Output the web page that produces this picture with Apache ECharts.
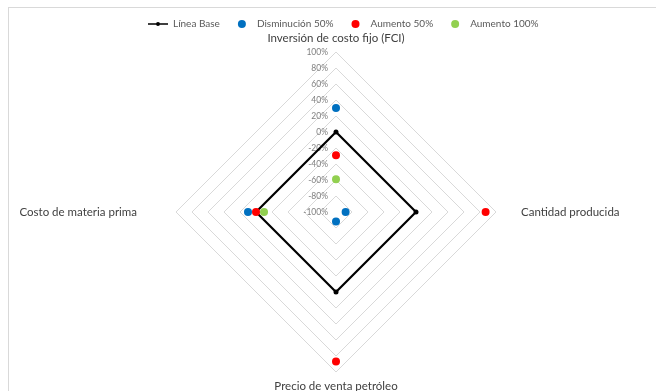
<!DOCTYPE html>
<html>
<head>
<meta charset="utf-8">
<script src="https://cdn.jsdelivr.net/npm/echarts@6/dist/echarts.min.js"></script>
<style>
  html, body { margin: 0; padding: 0; background: #fff; }
  #main { width: 656px; height: 391px; }
  .frame { position: absolute; left: 8px; top: 7px; right: 0; bottom: 0; border-left: 1px solid #d9d9d9; border-top: 1px solid #d9d9d9; pointer-events: none; }
</style>
</head>
<body>
<div id="main"></div>
<div class="frame"></div>
<script>
  // ejes del radar (orden: arriba, izquierda, abajo, derecha)
  var indicators = ['Inversión de costo fijo (FCI)', 'Costo de materia prima', 'Precio de venta petróleo', 'Cantidad producida'];
  var ticks = [-100, -80, -60, -40, -20, 0, 20, 40, 60, 80, 100];

  var lineaBase = [0, 0, 0, 0];
  var disminucion50 = [30, 10, -88, -88];
  var aumento50 = [-29, 0, 87, 87];
  var aumento100 = [-59, -10, null, null]; // fuera del gráfico

  var namePad = {
    'Inversión de costo fijo (FCI)': 'n',
    'Costo de materia prima': 'l',
    'Precio de venta petróleo': 'n',
    'Cantidad producida': 'r'
  };

  var font = 'Lato, "Liberation Sans", sans-serif';

  // puntos [radio, ángulo] para el sistema polar
  function toPolar(vals) {
    var out = [];
    vals.forEach(function (v, i) {
      if (v != null) out.push([v, indicators[i]]);
    });
    return out;
  }

  function dots(name, color, vals) {
    return {
      name: name,
      type: 'scatter',
      coordinateSystem: 'polar',
      symbol: 'circle',
      symbolSize: 8,
      itemStyle: { color: color, opacity: 1 },
      data: toPolar(vals)
    };
  }

  var myChart = echarts.init(document.getElementById('main'));

  var option = {
    animation: false,
    legend: {
      top: 14,
      left: 143,
      itemWidth: 20,
      itemHeight: 8,
      itemGap: 18,
      textStyle: { fontFamily: font, fontSize: 10, color: '#595959' },
      data: [
        { name: 'Línea Base', icon: 'path://M0,3.2 L20,3.2 L20,4.8 L0,4.8 Z M10,2 A2,2 0 1 1 10,6 A2,2 0 1 1 10,2 Z' },
        { name: 'Disminución 50%', icon: 'circle', itemStyle: { opacity: 1 } },
        { name: 'Aumento 50%', icon: 'circle', itemStyle: { opacity: 1 } },
        { name: 'Aumento 100%', icon: 'circle', itemStyle: { opacity: 1 } }
      ]
    },
    grid: { left: 334, top: 52, width: 1, height: 160 },
    xAxis: { show: false, type: 'value' },
    yAxis: {
      type: 'value',
      min: ticks[0],
      max: ticks[ticks.length - 1],
      interval: 20,
      axisLine: { show: false },
      axisTick: { show: false },
      splitLine: { show: false },
      axisLabel: { fontFamily: font, fontSize: 8.5, color: '#7f7f7f', margin: 6, formatter: '{value}%' }
    },
    polar: { center: [336, 212], radius: 160 },
    angleAxis: {
      type: 'category',
      data: indicators,
      startAngle: 90,
      clockwise: false,
      boundaryGap: false,
      show: false
    },
    radiusAxis: { type: 'value', min: -100, max: 100, show: false },
    radar: {
      center: [336, 212],
      radius: 160,
      startAngle: 90,
      splitNumber: 10,
      shape: 'polygon',
      indicator: indicators.map(function (n) { return { name: n, min: -100, max: 100 }; }),
      axisName: {
        color: '#404040',
        fontFamily: font,
        fontSize: 11.5,
        formatter: function (name) { return '{' + namePad[name] + '|' + name + '}'; },
        rich: {
          n: { fontFamily: font, fontSize: 11.5, color: '#404040' },
          l: { fontFamily: font, fontSize: 11.5, color: '#404040', padding: [0, 31, 0, 0] },
          r: { fontFamily: font, fontSize: 11.5, color: '#404040', padding: [0, 0, 0, 17] }
        }
      },
      nameGap: 8,
      axisLine: { show: false },
      axisTick: { show: false },
      axisLabel: { show: false },
      splitArea: { show: false },
      splitLine: { lineStyle: { color: '#d9d9d9', width: 1 } }
    },
    series: [
      {
        name: 'Línea Base',
        type: 'radar',
        symbol: 'circle',
        symbolSize: 5,
        itemStyle: { color: '#000' },
        lineStyle: { color: '#000', width: 2.2 },
        data: [{ name: 'Línea Base', value: lineaBase }]
      },
      dots('Disminución 50%', '#0070C0', disminucion50),
      dots('Aumento 50%', '#FF0000', aumento50),
      dots('Aumento 100%', '#92D050', aumento100)
    ]
  };

  myChart.setOption(option);
</script>
</body>
</html>
